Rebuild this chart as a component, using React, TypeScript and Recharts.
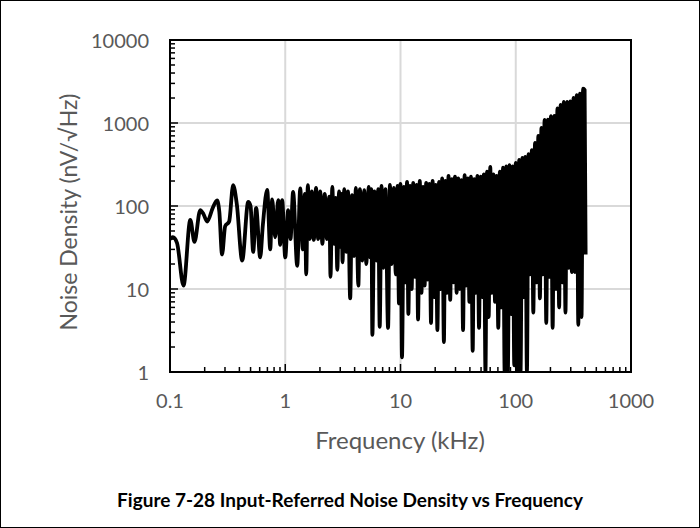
import React from "react";
import { LineChart, Line, XAxis, YAxis, CartesianGrid, ReferenceArea } from "recharts";

// ticks: decades get labels, the rest are minor tick marks
const X_TICKS = [
  0.1, 0.2, 0.3, 0.4, 0.5, 0.6, 0.7, 0.8, 0.9,
  1, 2, 3, 4, 5, 6, 7, 8, 9,
  10, 20, 30, 40, 50, 60, 70, 80, 90,
  100, 200, 300, 400, 500, 600, 700, 800, 900,
  1000,
];
const X_MAJOR = [0.1, 1, 10, 100, 1000];
const Y_TICKS = [
  1, 2, 3, 4, 5, 6, 7, 8, 9,
  10, 20, 30, 40, 50, 60, 70, 80, 90,
  100, 200, 300, 400, 500, 600, 700, 800, 900,
  1000, 2000, 3000, 4000, 5000, 6000, 7000, 8000, 9000,
  10000,
];
const Y_MAJOR = [1, 10, 100, 1000, 10000];

// frequency (kHz) / noise density (nV/rtHz)
const LOW_F = [
  0.1, 0.106, 0.115, 0.131, 0.15, 0.163, 0.183, 0.195, 0.21, 0.235, 0.256, 0.268,
  0.283, 0.301, 0.326, 0.353, 0.38, 0.423, 0.477, 0.5, 0.527, 0.559, 0.606, 0.64,
  0.697, 0.741, 0.77, 0.818, 0.869, 0.903, 0.94,
];
const LOW_V = [
  40, 42, 36, 11, 68, 37, 89, 80, 65, 95, 117, 85,
  26, 57, 65, 178, 105, 22, 112, 100, 28, 95, 24, 60,
  156, 30, 120, 42, 118, 34, 118,
];

const DEC1_F = [
  1.0, 1.06, 1.11, 1.17, 1.27, 1.35, 1.42, 1.48, 1.52, 1.57, 1.63, 1.7, 1.77, 1.85, 1.93,
  2.01, 2.1, 2.2, 2.3, 2.41, 2.47, 2.56, 2.66, 2.74, 2.83, 2.93, 3.03, 3.08, 3.14, 3.25,
  3.39, 3.5, 3.66, 3.8, 3.95, 4.1, 4.31, 4.45, 4.65, 4.85, 5.05, 5.3, 5.45, 5.58, 5.7,
  5.95, 6.2, 6.4, 6.6, 6.85, 7.1, 7.4, 7.8, 8.1, 8.4, 8.75, 9.1, 9.4, 9.7,
];
const DEC1_V = [
  24, 89, 40, 148, 19, 163, 30, 140, 15, 178, 40, 150, 39, 165, 40,
  150, 35, 140, 40, 130, 14, 170, 35, 125, 17, 150, 32, 140, 21, 160,
  28, 150, 7.7, 135, 25, 165, 11, 160, 22, 155, 20, 170, 24, 160, 2.8,
  150, 22, 160, 3.5, 175, 18, 160, 3.4, 180, 20, 165, 15, 175, 6.7,
];

const DEC2_F = [
  10.0, 10.3, 10.7, 11.0, 11.4, 11.7, 12.1, 12.5, 12.9, 13.3, 13.8, 14.2,
  14.7, 15.2, 15.7, 16.2, 16.7, 17.2, 17.8, 18.4, 19.0, 19.6, 20.2, 20.9,
  21.6, 22.3, 23.0, 23.8, 24.5, 25.3, 26.1, 27.0, 27.9, 28.8, 29.7, 30.7,
  31.7, 32.7, 33.8, 34.9, 36.0, 37.2, 38.4, 39.6, 40.9, 42.3, 43.6, 45.0,
  46.5, 48.0, 49.6, 51.2, 52.9, 54.6, 56.3, 58.2, 60.1, 62.0, 64.0, 66.1,
  68.3, 70.5, 72.8, 75.1, 77.6, 80.1, 82.7, 85.4, 88.2, 91.0, 94.0, 97.1,
];
const DEC2_V = [
  185, 1.5, 170, 12, 195, 5, 175, 10, 190, 14, 180, 4.3,
  200, 9, 170, 11, 190, 13, 185, 3.9, 200, 8, 180, 3.2,
  195, 10, 215, 2.3, 200, 9, 230, 7.4, 210, 12, 225, 9,
  215, 10, 205, 3.2, 235, 11, 215, 7, 225, 1.8, 210, 9,
  230, 3.4, 225, 8, 240, 1.0, 260, 4.6, 295, 9, 240, 7,
  230, 3.4, 260, 6, 290, 1.0, 300, 1.0, 310, 5, 300, 1.2,
];

const DEC3_F = [
  100, 103, 107, 110, 114, 117, 121, 125, 129, 133, 138, 142, 147, 152, 157,
  162, 167, 172, 178, 184, 190, 196, 202, 209, 216, 223, 230, 238, 245, 253,
  261, 270, 279, 288, 297, 307, 317, 327, 338, 349, 360, 372, 384, 396, 404,
];
const DEC3_V = [
  330, 1.0, 360, 1.0, 380, 8, 390, 1.0, 420, 15, 470, 5.2, 575, 12, 700,
  7.7, 870, 15, 1090, 3.9, 1100, 14, 1210, 3.4, 1220, 10, 1500, 6, 1650, 12,
  1790, 5.2, 1800, 18, 1820, 16, 2000, 16, 2170, 3.7, 2250, 4.6, 2600, 2500, 26,
];

const FREQ = [...LOW_F, ...DEC1_F, ...DEC2_F, ...DEC3_F];
const NOISE = [...LOW_V, ...DEC1_V, ...DEC2_V, ...DEC3_V];
const data = FREQ.map((f, i) => ({ f, v: NOISE[i] }));

const FONT = "Lato, 'Open Sans', sans-serif";
const GREY = "#595959";

function XTick({ x, y, payload }: any) {
  const major = X_MAJOR.includes(payload.value);
  return (
    <g>
      <line x1={x} x2={x} y1={y} y2={y - (major ? 8 : 5)} stroke="#000" strokeWidth={1.5} />
      {major && (
        <text x={x} y={y + 28} textAnchor="middle" dominantBaseline="central"
          fill={GREY} fontSize={20} fontFamily={FONT}>
          {String(payload.value)}
        </text>
      )}
    </g>
  );
}

function YTick({ x, y, payload }: any) {
  const major = Y_MAJOR.includes(payload.value);
  return (
    <g>
      <line x1={x} x2={x + (major ? 8 : 5)} y1={y} y2={y} stroke="#000" strokeWidth={1.5} />
      {major && (
        <text x={x - 21} y={y} textAnchor="end" dominantBaseline="central"
          fill={GREY} fontSize={20} fontFamily={FONT}>
          {String(payload.value)}
        </text>
      )}
    </g>
  );
}

export default function App() {
  return (
    <div style={{ position: "relative", width: 700, height: 528, background: "#fff", fontFamily: FONT }}>
      <style>{`body{margin:0}`}</style>
      <LineChart width={700} height={528} data={data}
        margin={{ top: 40, right: 69, left: 70, bottom: 116 }}>
        {/* hidden axes carry only the decade ticks for the grid */}
        <XAxis xAxisId="grid" hide type="number" scale="log" dataKey="f"
          domain={[0.1, 1000]} ticks={X_MAJOR} allowDataOverflow />
        <YAxis yAxisId="grid" hide type="number" scale="log"
          domain={[1, 10000]} ticks={Y_MAJOR} allowDataOverflow />
        <CartesianGrid xAxisId="grid" yAxisId="grid" stroke="#d9d9d9" strokeWidth={2} />

        <XAxis dataKey="f" type="number" scale="log" domain={[0.1, 1000]} allowDataOverflow
          ticks={X_TICKS} interval={0} tickSize={0} tickMargin={0}
          axisLine={false} tickLine={false} tick={(p: any) => <XTick {...p} />} height={40} />
        <YAxis type="number" scale="log" domain={[1, 10000]} allowDataOverflow
          ticks={Y_TICKS} interval={0} tickSize={0} tickMargin={0}
          axisLine={false} tickLine={false} tick={(p: any) => <YTick {...p} />} width={100} />

        <Line dataKey="v" type="monotone" stroke="#000" strokeWidth={3.8}
          dot={false} activeDot={false} isAnimationActive={false} />

        <ReferenceArea x1={0.1} x2={1000} y1={1} y2={10000} fill="none"
          stroke="#000" strokeWidth={2} ifOverflow="visible" />
      </LineChart>

      <div style={{ position: "absolute", left: 250, top: 425, width: 300, height: 30,
        lineHeight: "30px", textAlign: "center", fontSize: 24, color: GREY }}>
        Frequency (kHz)
      </div>
      <div style={{ position: "absolute", left: 68 - 150, top: 212 - 15, width: 300, height: 30,
        lineHeight: "30px", textAlign: "center", fontSize: 23, color: GREY,
        transform: "rotate(-90deg)" }}>
        Noise Density (nV/√Hz)
      </div>
      <div style={{ position: "absolute", left: 0, top: 485, width: 700, height: 30,
        lineHeight: "30px", textAlign: "center", fontSize: 19, fontWeight: 700, color: "#000" }}>
        Figure 7-28 Input-Referred Noise Density vs Frequency
      </div>

      <div style={{ position: "absolute", left: 0, top: 0, width: 700, height: 528,
        border: "1px solid #000", boxSizing: "border-box", pointerEvents: "none" }} />
    </div>
  );
}
